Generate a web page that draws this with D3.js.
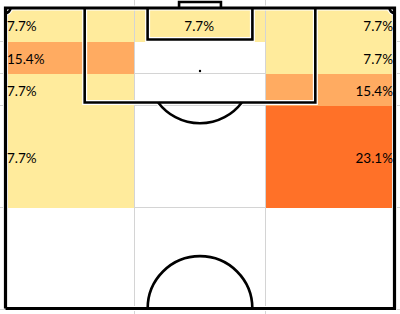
<!DOCTYPE html>
<html>
<head>
<meta charset="utf-8">
<script src="https://cdn.jsdelivr.net/npm/d3@7"></script>
<style>
  html, body { margin: 0; padding: 0; background: #fff; }
  svg { display: block; }
</style>
</head>
<body>
<div id="pitch-heatmap"></div>
<script>
// zones of the attacking half (metres from goal line / from left touchline)
const colZones = ["left", "centre", "right"];
const colEdges = [0, 22.4, 45.3, 68];
const rowZones = ["goal area", "six to spot", "spot to box", "outside box", "deep"];
const rowEdges = [0, 5.75, 11.35, 16.95, 34.8, 52.5];

// share of shots per zone (%), rows top to bottom
const shares = [
  [7.7, 7.7, 7.7],
  [15.4, 0, 7.7],
  [7.7, 0, 15.4],
  [7.7, 0, 23.1],
  [0, 0, 0]
];
const colorStops = [7.7, 15.4, 23.1];

function renderPitch() {
  const width = 400;
  const height = 314;

  const svg = d3.select("#pitch-heatmap")
    .append("svg")
    .attr("width", width)
    .attr("height", height);

  const x = d3.scaleLinear().domain([0, 68]).range([5.5, 394.5]);
  const y = d3.scaleLinear().domain([0, 52.5]).range([8, 308.5]);

  const color = d3.scaleLinear()
    .domain(colorStops)
    .range(["#ffeb9c", "#ffab61", "#ff7128"]);

  // spreadsheet gridlines
  const grid = svg.append("g")
    .attr("stroke", "#d4d4d4")
    .attr("stroke-width", 1);

  colEdges.slice(1, -1).forEach(c => {
    grid.append("line")
      .attr("x1", Math.round(x(c)) + 0.5).attr("x2", Math.round(x(c)) + 0.5)
      .attr("y1", 0).attr("y2", height);
  });
  rowEdges.slice(1).forEach(r => {
    grid.append("line")
      .attr("x1", 0).attr("x2", width)
      .attr("y1", Math.round(y(r)) + 0.5).attr("y2", Math.round(y(r)) + 0.5);
  });

  // heat cells
  const cells = [];
  shares.forEach((row, i) => {
    row.forEach((v, j) => {
      cells.push({ row: i, col: j, value: v });
    });
  });

  svg.selectAll(".cell")
    .data(cells.filter(d => d.value > 0))
    .enter()
    .append("rect")
    .attr("class", "cell")
    .attr("x", d => Math.round(x(colEdges[d.col])) + (d.col ? 1 : 0))
    .attr("y", d => Math.round(y(rowEdges[d.row])) + (d.row ? 1 : 0))
    .attr("width", d => Math.round(x(colEdges[d.col + 1])) - Math.round(x(colEdges[d.col])) - (d.col ? 1 : 0) + (d.col === 2 ? 1 : 0))
    .attr("height", d => Math.round(y(rowEdges[d.row + 1])) - Math.round(y(rowEdges[d.row])) - (d.row ? 1 : 0) + 1)
    .attr("fill", d => color(d.value));

  // pitch markings
  const lines = svg.append("g")
    .attr("fill", "none")
    .attr("stroke-linejoin", "miter");

  const shapes = [];
  // outer half
  shapes.push(d3.line()([[x(0), y(52.5)], [x(0), y(0)], [x(68), y(0)], [x(68), y(52.5)], [x(0), y(52.5)]]));
  // penalty box
  shapes.push(d3.line()([[x(13.84), y(0)], [x(13.84), y(16.5)], [x(54.16), y(16.5)], [x(54.16), y(0)]]));
  // goal area
  shapes.push(d3.line()([[x(24.84), y(0)], [x(24.84), y(5.5)], [x(43.16), y(5.5)], [x(43.16), y(0)]]));
  // goal
  shapes.push(d3.line()([[x(30.34), y(0)], [x(30.34), y(-1.05)], [x(37.66), y(-1.05)], [x(37.66), y(0)]]));

  const r = x(9.15) - x(0);
  const spot = [x(34), y(11)];
  const dy = y(16.5) - spot[1];
  const a = Math.acos(dy / r);
  // penalty arc
  shapes.push(d3.arc()({ innerRadius: r, outerRadius: r, startAngle: Math.PI - a, endAngle: Math.PI + a })
    .split("Z")[0]);
  // centre circle (half)
  const centre = [x(34), y(52.5)];

  const paths = [
    ...shapes.slice(0, 4).map(p => ({ d: p, t: "" })),
    { d: shapes[4], t: `translate(${spot[0]},${spot[1]})` },
    { d: d3.arc()({ innerRadius: r, outerRadius: r, startAngle: -Math.PI / 2, endAngle: Math.PI / 2 }).split("Z")[0], t: `translate(${centre[0]},${centre[1]})` },
    { d: d3.arc()({ innerRadius: 5, outerRadius: 5, startAngle: Math.PI / 2, endAngle: Math.PI }).split("Z")[0], t: `translate(${x(0)},${y(0)})` },
    { d: d3.arc()({ innerRadius: 5, outerRadius: 5, startAngle: Math.PI, endAngle: Math.PI * 1.5 }).split("Z")[0], t: `translate(${x(68)},${y(0)})` }
  ];

  // goal box is white inside
  svg.insert("rect", "g:last-of-type")
    .attr("x", x(30.34)).attr("y", y(-1.05))
    .attr("width", x(37.66) - x(30.34)).attr("height", y(0) - y(-1.05))
    .attr("fill", "#fff");

  lines.selectAll(".halo")
    .data(paths)
    .enter()
    .append("path")
    .attr("d", d => d.d)
    .attr("transform", d => d.t)
    .attr("stroke", "#fff")
    .attr("stroke-width", 5);

  lines.selectAll(".mark")
    .data(paths)
    .enter()
    .append("path")
    .attr("d", d => d.d)
    .attr("transform", d => d.t)
    .attr("stroke", "#000")
    .attr("stroke-width", (d, i) => i === 0 ? 3.2 : 2.6);

  // penalty spot
  svg.append("circle")
    .attr("cx", spot[0]).attr("cy", spot[1])
    .attr("r", 1.2)
    .attr("fill", "#000");

  // labels
  svg.selectAll(".label")
    .data(cells.filter(d => d.value > 0))
    .enter()
    .append("text")
    .attr("class", "label")
    .attr("x", d => d.col === 0 ? x(colEdges[0]) + 1.5
      : d.col === 1 ? (x(colEdges[1]) + x(colEdges[2])) / 2
      : x(colEdges[3]) - 1.5)
    .attr("y", d => (y(rowEdges[d.row]) + y(rowEdges[d.row + 1])) / 2 + 2)
    .attr("text-anchor", d => ["start", "middle", "end"][d.col])
    .attr("dominant-baseline", "central")
    .attr("font-family", "Lato, 'Open Sans', sans-serif")
    .attr("font-size", "13.5px")
    .attr("fill", "#000")
    .text(d => d.value.toFixed(1) + "%");
}

renderPitch();
</script>
</body>
</html>
